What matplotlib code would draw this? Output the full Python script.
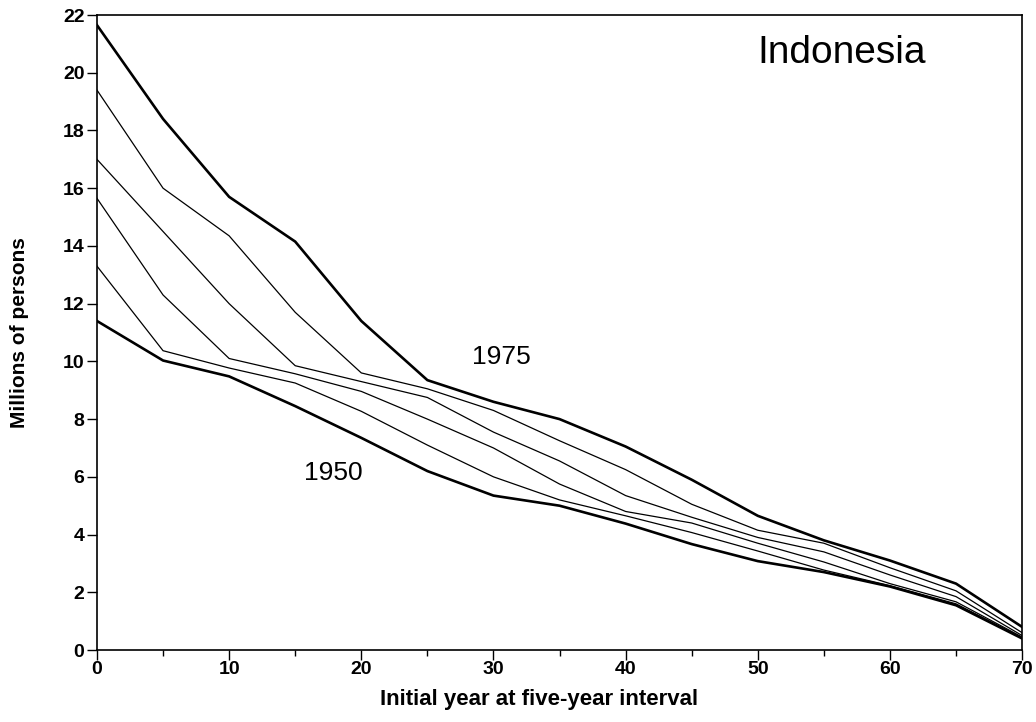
import numpy as np
import matplotlib.pyplot as plt
from matplotlib.ticker import MultipleLocator


# -----------------------------
# Data: millions of persons by initial age, one line per year
# -----------------------------
ages = [0, 5, 10, 15, 20, 25, 30, 35, 40, 45, 50, 55, 60, 65, 70]

pop_1975 = [21.65, 18.4, 15.7, 14.15, 11.4, 9.35, 8.6, 8.0, 7.05, 5.9, 4.65, 3.8, 3.1, 2.3, 0.8]
pop_1970 = [19.4, 16.0, 14.35, 11.7, 9.6, 9.05, 8.3, 7.25, 6.25, 5.05, 4.15, 3.7, 2.85, 2.05, 0.6]
pop_1965 = [17.0, 14.5, 12.0, 9.85, 9.3, 8.75, 7.55, 6.55, 5.35, 4.6, 3.9, 3.4, 2.6, 1.85, 0.5]
pop_1960 = [15.65, 12.3, 10.1, 9.57, 8.96, 8.0, 7.0, 5.75, 4.8, 4.4, 3.7, 3.05, 2.3, 1.67, 0.45]
pop_1955 = [13.3, 10.37, 9.77, 9.25, 8.27, 7.1, 6.0, 5.2, 4.65, 4.07, 3.43, 2.77, 2.23, 1.6, 0.42]
pop_1950 = [11.4, 10.03, 9.48, 8.45, 7.35, 6.2, 5.35, 5.0, 4.38, 3.67, 3.08, 2.7, 2.2, 1.55, 0.4]

thin_series = [pop_1970, pop_1965, pop_1960, pop_1955]

y_ticks = list(range(0, 23, 2))

plt.rcParams['font.family'] = ['Liberation Sans', 'DejaVu Sans']

fig = plt.figure(figsize=(10.36, 7.22), dpi=100)
ax = fig.add_axes([0.0936, 0.0997, 0.893, 0.8795])

# thick outer lines, thin inner lines
ax.plot(ages, pop_1975, color='black', linewidth=1.9)
ax.plot(ages, pop_1950, color='black', linewidth=1.9)
for s in thin_series:
    ax.plot(ages, s, color='black', linewidth=0.9)

ax.set_xlim(0, 70)
ax.set_ylim(0, 22)
ax.xaxis.set_major_locator(MultipleLocator(10))
ax.xaxis.set_minor_locator(MultipleLocator(5))
ax.set_yticks(y_ticks)

ax.tick_params(axis='both', which='major', direction='out', length=7,
               width=1.0, labelsize=14)
ax.tick_params(axis='x', which='major', pad=1)
ax.tick_params(axis='y', which='major', pad=2)
ax.tick_params(axis='x', which='minor', direction='out', length=4, width=1.0)
for lbl in ax.get_xticklabels() + ax.get_yticklabels():
    lbl.set_fontweight('bold')

for sp in ax.spines.values():
    sp.set_linewidth(1.2)

ax.set_xlabel("Initial year at five-year interval", fontsize=16,
              fontweight='bold')
ax.xaxis.set_label_coords(0.478, -0.062)
ax.set_ylabel("Millions of persons", fontsize=15, fontweight='bold', labelpad=24)

ax.text(50.0, 20.7, "Indonesia", fontsize=28, ha='left', va='center')
ax.text(28.4, 10.15, "1975", fontsize=19, ha='left', va='center')
ax.text(15.7, 6.15, "1950", fontsize=19, ha='left', va='center')

plt.savefig("out.png", dpi=100)
